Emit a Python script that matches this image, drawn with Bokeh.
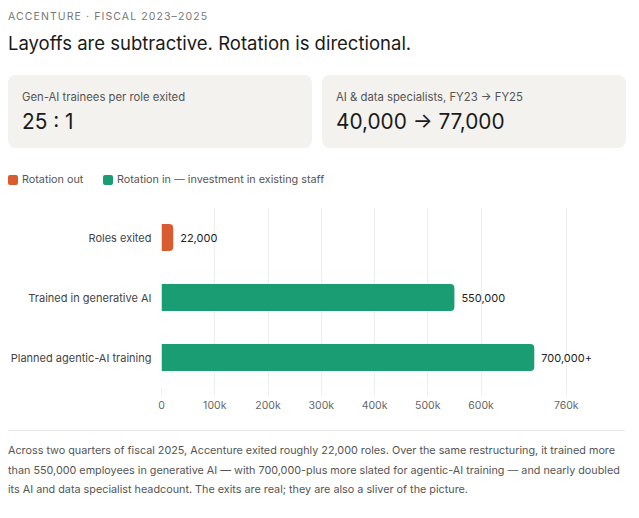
from bokeh.plotting import figure
from bokeh.models import ColumnDataSource, FactorRange, FixedTicker, LabelSet, Div, Range1d
from bokeh.layouts import column
from bokeh.core.properties import value
from bokeh.embed import file_html
from bokeh.resources import INLINE

# ---------------- data ----------------
categories = ["Roles exited", "Trained in generative AI", "Planned agentic-AI training"]
values = [22000, 550000, 700000]
value_labels = ["22,000", "550,000", "700,000+"]
groups = ["Rotation out", "Rotation in", "Rotation in"]
tick_values = [0, 100000, 200000, 300000, 400000, 500000, 600000, 760000]
tick_labels = ["0", "100k", "200k", "300k", "400k", "500k", "600k", "760k"]
kpi_labels = ["Gen-AI trainees per role exited", "AI & data specialists, FY23 \u2192 FY25"]
kpi_values = ["25 : 1", "40,000 \u2192 77,000"]
legend_labels = ["Rotation out", "Rotation in \u2014 investment in existing staff"]
eyebrow = "ACCENTURE \u00b7 FISCAL 2023\u20132025"
headline = "Layoffs are subtractive. Rotation is directional."
footnote_lines = [
    "Across two quarters of fiscal 2025, Accenture exited roughly 22,000 roles. Over the same restructuring, it trained more",
    "than 550,000 employees in generative AI \u2014 with 700,000-plus more slated for agentic-AI training \u2014 and nearly doubled",
    "its AI and data specialist headcount. The exits are real; they are also a sliver of the picture.",
]

ORANGE = "#D95B30"
GREEN = "#1B9D74"
COLOR_MAP = {"Rotation out": ORANGE, "Rotation in": GREEN}
FONT = "Inter, 'Noto Sans', sans-serif"

# ---------------- header div ----------------
card_lefts = [8, 322]
cards_html = ""
for i in range(2):
    cards_html += (
        f'<div style="position:absolute;left:{card_lefts[i]}px;top:75px;width:304px;height:73px;'
        f'background:#F3F2EE;border-radius:8px;">'
        f'<div style="position:absolute;left:14px;top:14px;font-size:11.3px;color:#555;white-space:nowrap;">{kpi_labels[i]}</div>'
        f'<div style="position:absolute;left:14px;top:32px;font-size:20.8px;color:#1a1a1a;white-space:nowrap;">{kpi_values[i]}</div>'
        f'</div>'
    )

legend_x = [8, 103]
legend_html = ""
for i in range(2):
    col = ORANGE if i == 0 else GREEN
    legend_html += (
        f'<div style="position:absolute;left:{legend_x[i]}px;top:175px;width:10px;height:10px;background:{col};border-radius:2px;"></div>'
        f'<div style="position:absolute;left:{legend_x[i] + 14}px;top:172px;font-size:10.8px;color:#555;white-space:nowrap;line-height:16px;">{legend_labels[i]}</div>'
    )

header_html = (
    f'<div style="position:relative;width:639px;height:195px;font-family:{FONT};">'
    f'<div style="position:absolute;left:8px;top:9px;font-size:10.5px;letter-spacing:1.1px;color:#777;white-space:nowrap;">{eyebrow}</div>'
    f'<div style="position:absolute;left:8px;top:30px;font-size:18.5px;color:#1a1a1a;white-space:nowrap;">{headline}</div>'
    f'{cards_html}{legend_html}</div>'
)
header = Div(text=header_html, width=639, height=195, margin=0)

# ---------------- chart ----------------
source = ColumnDataSource(dict(
    cat=categories,
    val=values,
    lab=value_labels,
    color=[COLOR_MAP[g] for g in groups],
))

p = figure(
    width=639, height=235,
    y_range=FactorRange(factors=categories[::-1]),
    x_range=Range1d(0, 860000),
    output_backend="svg", toolbar_location=None,
    min_border_left=161, min_border_right=20, min_border_top=12, min_border_bottom=43,
)
p.outline_line_color = None
p.background_fill_color = "white"
p.border_fill_color = "white"

p.hbar(y="cat", left=0, right="val", height=0.45, fill_color="color", line_color=None,
       border_radius=(0, 4, 4, 0), source=source)

labels = LabelSet(x="val", y="cat", text="lab", x_offset=7, source=source,
                  text_baseline="middle", text_font_size="11px", text_color="#222",
                  text_font=value("Inter"))
p.add_layout(labels)

p.xaxis.ticker = FixedTicker(ticks=tick_values)
p.xaxis.major_label_overrides = {t: l for t, l in zip(tick_values, tick_labels)}
p.xaxis.axis_line_color = None
p.xaxis.major_tick_line_color = "#EDEDED"
p.xaxis.major_tick_out = 8
p.xaxis.major_tick_in = 0
p.xaxis.minor_tick_line_color = None
p.xaxis.major_label_standoff = 3
p.xaxis.major_label_text_font = "Inter"
p.xaxis.major_label_text_font_size = "10.5px"
p.xaxis.major_label_text_color = "#666"

p.yaxis.axis_line_color = None
p.yaxis.major_tick_line_color = None
p.yaxis.minor_tick_line_color = None
p.yaxis.major_label_standoff = 4
p.yaxis.major_label_text_font = "Inter"
p.yaxis.major_label_text_font_size = "11px"
p.yaxis.major_label_text_color = "#444"

p.xgrid.grid_line_color = "#EDEDED"
p.ygrid.grid_line_color = None

# ---------------- footer ----------------
footer_html = (
    f'<div style="position:relative;width:639px;height:88px;font-family:{FONT};">'
    f'<div style="position:absolute;left:8px;top:0px;width:617px;height:0px;border-top:1px solid #E8E8E8;"></div>'
    f'<div style="position:absolute;left:8px;top:11px;font-size:10.8px;line-height:19.5px;color:#555;white-space:nowrap;">'
    + "<br>".join(footnote_lines) +
    '</div></div>'
)
footer = Div(text=footer_html, width=639, height=88, margin=0)

layout = column(header, p, footer, spacing=0)
open("out.html", "w").write(file_html(layout, INLINE))
